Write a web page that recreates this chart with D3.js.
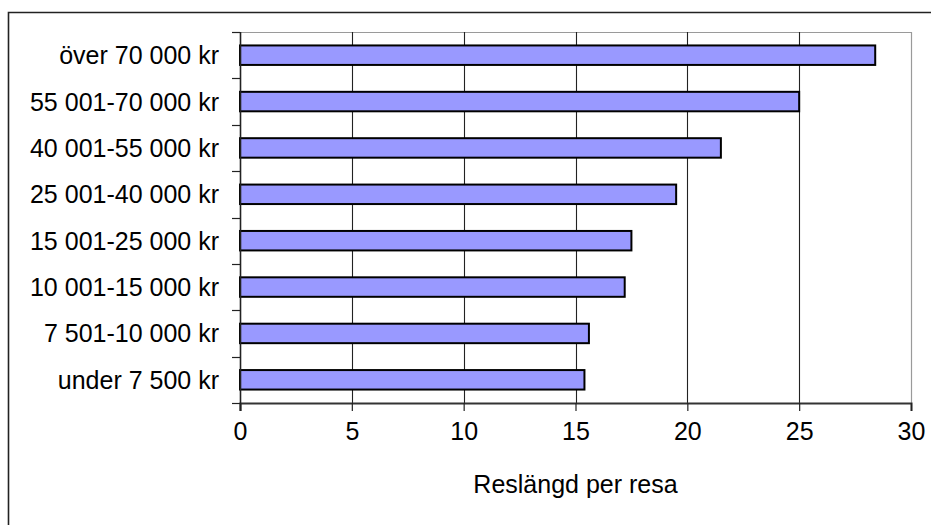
<!DOCTYPE html>
<html>
<head>
<meta charset="utf-8">
<script src="https://cdn.jsdelivr.net/npm/d3@7"></script>
<style>
  html, body { margin: 0; padding: 0; background: #fff; }
  svg { display: block; }
  text { font-family: "Liberation Sans", Arial, sans-serif; fill: #000; }
</style>
</head>
<body>
<svg id="chart" width="931" height="525"></svg>
<script>
const categories = [
  "över 70 000 kr",
  "55 001-70 000 kr",
  "40 001-55 000 kr",
  "25 001-40 000 kr",
  "15 001-25 000 kr",
  "10 001-15 000 kr",
  "7 501-10 000 kr",
  "under 7 500 kr"
];
const values = [28.4, 25.0, 21.5, 19.5, 17.5, 17.2, 15.6, 15.4];
const xTicks = [0, 5, 10, 15, 20, 25, 30];
const xTitle = "Reslängd per resa";

const svg = d3.select("#chart");
const W = 931, H = 525;
const plot = { left: 240, right: 911, top: 32, bottom: 403 };
const FS = 25;

// outer chart frame (only left/top visible in the crop)
svg.append("rect").attr("width", W).attr("height", H).attr("fill", "#fff");
svg.append("path")
  .attr("d", `M8.5,${H + 2} L8.5,12.5 L${W + 2},12.5`)
  .attr("fill", "none").attr("stroke", "#222").attr("stroke-width", 1.6);

const x = d3.scaleLinear().domain([0, 30]).range([plot.left, plot.right]);
const yBand = d3.scaleBand().domain(categories).range([plot.top, plot.bottom]).padding(0);
const yBar = d3.scaleBand().domain(categories).range([plot.top, plot.bottom])
  .paddingInner(0.58).paddingOuter(0.29);

// plot area border (gray, top/right)
svg.append("path")
  .attr("d", `M${plot.left},${plot.top + 0.5} L${plot.right + 0.5},${plot.top + 0.5} L${plot.right + 0.5},${plot.bottom}`)
  .attr("fill", "none").attr("stroke", "#9a9a9a").attr("stroke-width", 1.2);

// vertical gridlines
svg.append("g").selectAll("line")
  .data(xTicks.filter(t => t > 0 && t < 30))
  .join("line")
  .attr("x1", d => Math.round(x(d)) + 0.5).attr("x2", d => Math.round(x(d)) + 0.5)
  .attr("y1", plot.top).attr("y2", plot.bottom)
  .attr("stroke", "#222").attr("stroke-width", 1.1);

// bars
svg.append("g").selectAll("rect")
  .data(categories.map((c, i) => ({ c, v: values[i] })))
  .join("rect")
  .attr("x", x(0))
  .attr("y", d => yBar(d.c))
  .attr("width", d => x(d.v) - x(0))
  .attr("height", yBar.bandwidth())
  .attr("fill", "#9999ff")
  .attr("stroke", "#000").attr("stroke-width", 2);

// x axis
const xAxis = d3.axisBottom(x).tickValues(xTicks).tickSize(8).tickPadding(11)
  .tickFormat(d3.format("d"));
const gx = svg.append("g").attr("transform", `translate(0,${plot.bottom})`).call(xAxis);
gx.select(".domain").attr("stroke", "#333").attr("stroke-width", 2);
gx.selectAll(".tick line").attr("stroke", "#222").attr("stroke-width", 1.2);
gx.selectAll(".tick text").attr("font-size", FS)
  .attr("font-family", "'Liberation Sans', Arial, sans-serif").attr("fill", "#000");

// y axis: ticks at category boundaries
const gy = svg.append("g");
gy.append("line")
  .attr("x1", plot.left + 0.5).attr("x2", plot.left + 0.5)
  .attr("y1", plot.top).attr("y2", plot.bottom + 8)
  .attr("stroke", "#222").attr("stroke-width", 1.6);
const bounds = categories.map(c => yBand(c)).concat([plot.bottom]);
gy.selectAll("line.bt").data(bounds).join("line").attr("class", "bt")
  .attr("x1", plot.left - 8).attr("x2", plot.left)
  .attr("y1", d => Math.round(d) + 0.5).attr("y2", d => Math.round(d) + 0.5)
  .attr("stroke", "#222").attr("stroke-width", 1.2);
gy.selectAll("text").data(categories).join("text")
  .attr("x", plot.left - 21)
  .attr("y", d => yBand(d) + yBand.bandwidth() / 2)
  .attr("dy", "0.36em")
  .attr("text-anchor", "end")
  .attr("font-size", FS)
  .text(d => d);

// x axis title
svg.append("text")
  .attr("x", (plot.left + plot.right) / 2)
  .attr("y", 493)
  .attr("text-anchor", "middle")
  .attr("font-size", FS)
  .text(xTitle);
</script>
</body>
</html>
